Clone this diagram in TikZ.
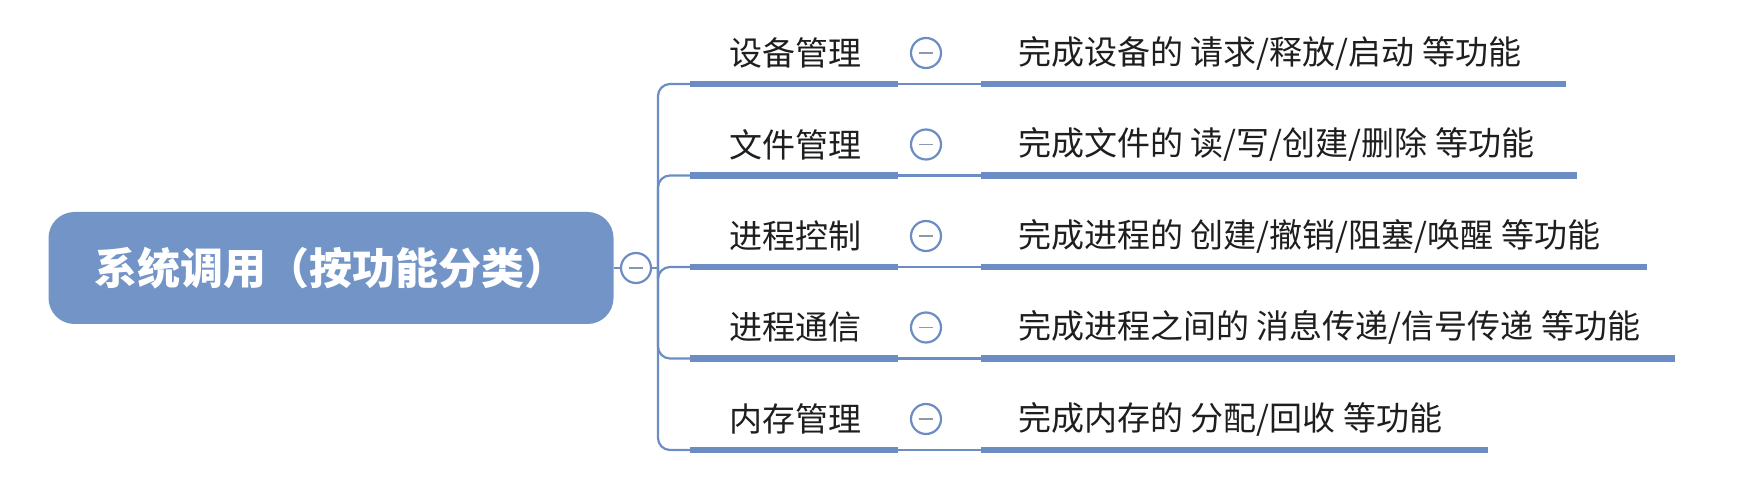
\documentclass[tikz,border=0pt]{standalone}
\usepackage{fontspec}
\newfontfamily\cjk{Noto Sans CJK SC}
\definecolor{mapblue}{RGB}{114,148,199}
\definecolor{linkblue}{RGB}{108,141,196}
\definecolor{minusgray}{RGB}{140,152,176}
\definecolor{inkgray}{RGB}{30,30,30}

\tikzset{
  rootbox/.style={fill=mapblue, rounded corners=13pt, minimum width=282.5pt,
    minimum height=56pt, text=white, font=\cjk\bfseries\fontsize{21.5}{26}\selectfont},
  fold/.style={circle, draw=linkblue, line width=1.1pt, fill=white,
    minimum size=15pt, inner sep=0pt,
    path picture={\draw[minusgray, line width=0.9pt]
      ([xshift=-3.6pt]path picture bounding box.center) --
      ([xshift=3.6pt]path picture bounding box.center);}},
  topic/.style={text=inkgray, font=\cjk\fontsize{16.5}{20}\selectfont, inner sep=0pt},
  underline/.style={linkblue, line width=3.2pt},
  link/.style={linkblue, line width=1.1pt}
}

\begin{document}
\begin{tikzpicture}[x=0.5pt, y=-0.5pt]
  \useasboundingbox (0,0) rectangle (1754,480);
  \node[rootbox] (root) at (331,268) {系统调用（按功能分类）};
  \coordinate (trunk) at (658,268);
  \draw[link] (root.east) -- (trunk);
  \foreach \i/\lbl/\txt/\xend in {1/设备管理/{完成设备的 请求/释放/启动 等功能}/1566,
      2/文件管理/{完成文件的 读/写/创建/删除 等功能}/1577,
      3/进程控制/{完成进程的 创建/撤销/阻塞/唤醒 等功能}/1647,
      4/进程通信/{完成进程之间的 消息传递/信号传递 等功能}/1675,
      5/内存管理/{完成内存的 分配/回收 等功能}/1488} {
    \pgfmathsetmacro\yl{84+(\i-1)*91.5}
    \pgfmathsetmacro\yt{\yl-31}
    \coordinate (cl\i) at (690,\yl);
    \coordinate (cr\i) at (898,\yl);
    \coordinate (gl\i) at (981,\yl);
    \coordinate (gr\i) at (\xend,\yl);
    \draw[link, rounded corners=6pt] (trunk) |- (cl\i);
    \draw[underline] (cl\i) -- (cr\i);
    \draw[link] (cr\i) -- (gl\i);
    \draw[underline] (gl\i) -- (gr\i);
    \node[topic] (t\i) at (795,\yt) {\lbl};
    \node[fold] (f\i) at (926,\yt) {};
    \node[topic, anchor=west] (d\i) at (1018,\yt) {\txt};
  }
  \node[fold] (rootfold) at (636,268) {};
\end{tikzpicture}
\end{document}
